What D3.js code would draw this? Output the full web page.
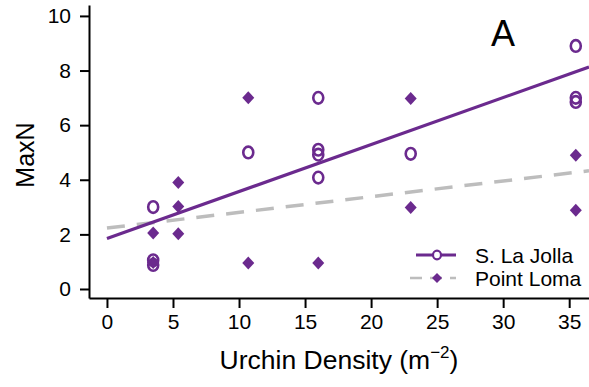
<!DOCTYPE html>
<meta charset="utf-8">
<style>
body { margin: 0; background: #fff; }
svg text { font-family: "Liberation Sans", Arial, sans-serif; fill: #000; }
.axis path, .axis line { stroke: #000; stroke-width: 2px; }
.axis text { font-size: 21px; }
</style>
<svg width="589" height="387"></svg>
<script src="https://d3js.org/d3.v7.min.js"></script>
<script>
// S. La Jolla (open circles)
var laJollaX = [3.5, 3.5, 3.5, 10.7, 16, 16, 16, 16, 23, 35.5, 35.5, 35.5];
var laJollaY = [3, 1.05, 0.88, 5, 7, 5.1, 4.92, 4.08, 4.95, 8.9, 7, 6.85];
// Point Loma (diamonds)
var lomaX = [3.5, 3.5, 5.4, 5.4, 5.4, 10.7, 10.7, 16, 23, 23, 35.5, 35.5];
var lomaY = [2.05, 0.97, 3.9, 3.02, 2.02, 7, 0.95, 0.95, 6.98, 2.98, 4.9, 2.88];
// fitted lines: [intercept, slope]
var laJollaFit = [1.85, 0.172];
var lomaFit = [2.23, 0.0575];
var xTicks = [0, 5, 10, 15, 20, 25, 30, 35];
var yTicks = [0, 2, 4, 6, 8, 10];
var seriesNames = ["S. La Jolla", "Point Loma"];

var purple = "#6b2a8e", grey = "#bdbdbd";
var svg = d3.select("svg");

var x = d3.scaleLinear().domain([-1.36, 36.5]).range([89, 589]);
var y = d3.scaleLinear().domain([-0.33, 10.4]).range([298, 5]);

svg.append("g").attr("class", "axis")
    .attr("transform", "translate(0,298)")
    .call(d3.axisBottom(x).tickValues(xTicks).tickSizeInner(10).tickSizeOuter(0).tickPadding(6));
svg.append("g").attr("class", "axis")
    .attr("transform", "translate(89,0)")
    .call(d3.axisLeft(y).tickValues(yTicks).tickSizeInner(9).tickSizeOuter(0).tickPadding(9));
svg.selectAll(".axis text").attr("font-family", null);

// fit lines
var xEnd = x.domain()[1];
function fitLine(f) { return [[0, f[0]], [xEnd, f[0] + f[1] * xEnd]]; }
var line = d3.line().x(function(d) { return x(d[0]); }).y(function(d) { return y(d[1]); });

svg.append("path").datum(fitLine(lomaFit)).attr("d", line)
    .attr("fill", "none").attr("stroke", grey).attr("stroke-width", 3.5)
    .attr("stroke-dasharray", "18,12");
svg.append("path").datum(fitLine(laJollaFit)).attr("d", line)
    .attr("fill", "none").attr("stroke", purple).attr("stroke-width", 3.2);

// points
var diamond = "M0,-6.5L6,0L0,6.5L-6,0Z";
svg.selectAll(".loma").data(lomaX).enter().append("path").attr("class", "loma")
    .attr("d", diamond).attr("fill", purple)
    .attr("transform", function(d, i) { return "translate(" + x(d) + "," + y(lomaY[i]) + ")"; });
svg.selectAll(".lj").data(laJollaX).enter().append("ellipse").attr("class", "lj")
    .attr("cx", function(d) { return x(d); })
    .attr("cy", function(d, i) { return y(laJollaY[i]); })
    .attr("rx", 5).attr("ry", 5.8)
    .attr("fill", "none").attr("stroke", purple).attr("stroke-width", 2.6);

// panel letter
svg.append("text").attr("x", 503).attr("y", 46).attr("text-anchor", "middle")
    .style("font-size", "36px").text("A");

// axis titles
svg.append("text").attr("transform", "translate(34,155) rotate(-90)")
    .attr("text-anchor", "middle").style("font-size", "25px").text("MaxN");
var xt = svg.append("text").attr("x", 339).attr("y", 369).attr("text-anchor", "middle")
    .style("font-size", "26.5px");
xt.append("tspan").text("Urchin Density (m");
xt.append("tspan").attr("dy", -11).style("font-size", "17px").text("\u22122");
xt.append("tspan").attr("dy", 11).text(")");

// legend
var lg = svg.append("g");
lg.append("line").attr("x1", 416).attr("x2", 456).attr("y1", 255).attr("y2", 255)
    .attr("stroke", purple).attr("stroke-width", 3);
lg.append("ellipse").attr("cx", 437).attr("cy", 255).attr("rx", 4).attr("ry", 4.3)
    .attr("fill", "#fff").attr("stroke", purple).attr("stroke-width", 2.2);
lg.append("line").attr("x1", 410).attr("x2", 456).attr("y1", 278).attr("y2", 278)
    .attr("stroke", grey).attr("stroke-width", 2.5).attr("stroke-dasharray", "12,8");
lg.append("path").attr("d", "M0,-5L5,0L0,5L-5,0Z").attr("fill", purple)
    .attr("transform", "translate(437,278)");
lg.selectAll(".lt").data(seriesNames).enter().append("text")
    .attr("x", 475).attr("y", function(d, i) { return 263 + i * 23; })
    .style("font-size", "21px").text(function(d) { return d; });
</script>
